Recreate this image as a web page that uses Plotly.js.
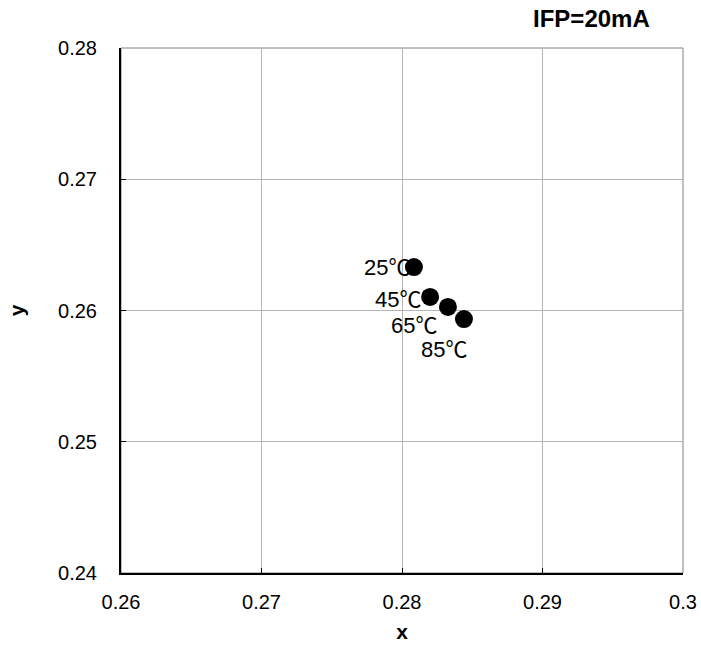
<!DOCTYPE html>
<html><head><meta charset="utf-8">
<script src="https://cdn.plot.ly/plotly-3.0.1.min.js"></script>
<style>html,body{margin:0;padding:0;background:#fff}#c{width:701px;height:671px}</style>
</head><body><div id="c"></div>
<script>
const labels = ["25℃", "45℃", "65℃", "85℃"];
const xs = [0.28085, 0.2820, 0.28327, 0.28441];
const ys = [0.26331, 0.26103, 0.26027, 0.25935];
const xTicks = [0.26, 0.27, 0.28, 0.29, 0.3];
const yTicks = [0.24, 0.25, 0.26, 0.27, 0.28];
const labelShift = [[-2, 0], [-7, -3], [-9, -19], [5, -30]];

const font = "Liberation Sans, Arial, Noto Sans CJK SC, sans-serif";
const annotations = labels.map((t, i) => ({
  x: xs[i], y: ys[i], xref: 'x', yref: 'y', text: t, showarrow: false,
  xanchor: 'right', yanchor: 'middle', xshift: labelShift[i][0], yshift: labelShift[i][1],
  font: {family: font, size: 22, color: '#000'}
}));

const trace = {x: xs, y: ys, mode: 'markers', type: 'scatter',
  marker: {color: '#000', size: 18}, hoverinfo: 'none'};

const axisCommon = {
  showgrid: true, gridcolor: '#b4b4b4', gridwidth: 1, zeroline: false,
  ticks: 'inside', ticklen: 5, tickcolor: '#000',
  tickfont: {family: font, size: 20, color: '#000'},
  showline: true, linecolor: '#000', linewidth: 2, mirror: false
};

const layout = {
  width: 701, height: 671,
  margin: {l: 121, r: 18, t: 48, b: 98},
  paper_bgcolor: '#fff', plot_bgcolor: '#fff',
  showlegend: false,
  title: {text: '<b>IFP=20mA</b>', font: {family: font, size: 24, color: '#000'},
    xref: 'paper', x: 0.837, xanchor: 'center', yref: 'container', y: 0.973, yanchor: 'middle'},
  xaxis: Object.assign({}, axisCommon, {range: [0.26, 0.3], tickvals: xTicks,
    ticktext: xTicks.map(v => String(v)), ticklabelstandoff: 10,
    title: {text: '<b>x</b>', font: {family: font, size: 21, color: '#000'}, standoff: 12}}),
  yaxis: Object.assign({}, axisCommon, {range: [0.24, 0.28], tickvals: yTicks,
    ticktext: yTicks.map(v => String(v)), ticklabelstandoff: 18,
    title: {text: '<b>y</b>', font: {family: font, size: 21, color: '#000'}, standoff: 28}}),
  annotations: annotations,
  shapes: [{type: 'rect', xref: 'paper', yref: 'paper', x0: 0, x1: 1, y0: 0, y1: 1,
    line: {color: '#808080', width: 1}, layer: 'below'}]
};
Plotly.newPlot('c', [trace], layout, {displayModeBar: false, staticPlot: true});
</script></body></html>
